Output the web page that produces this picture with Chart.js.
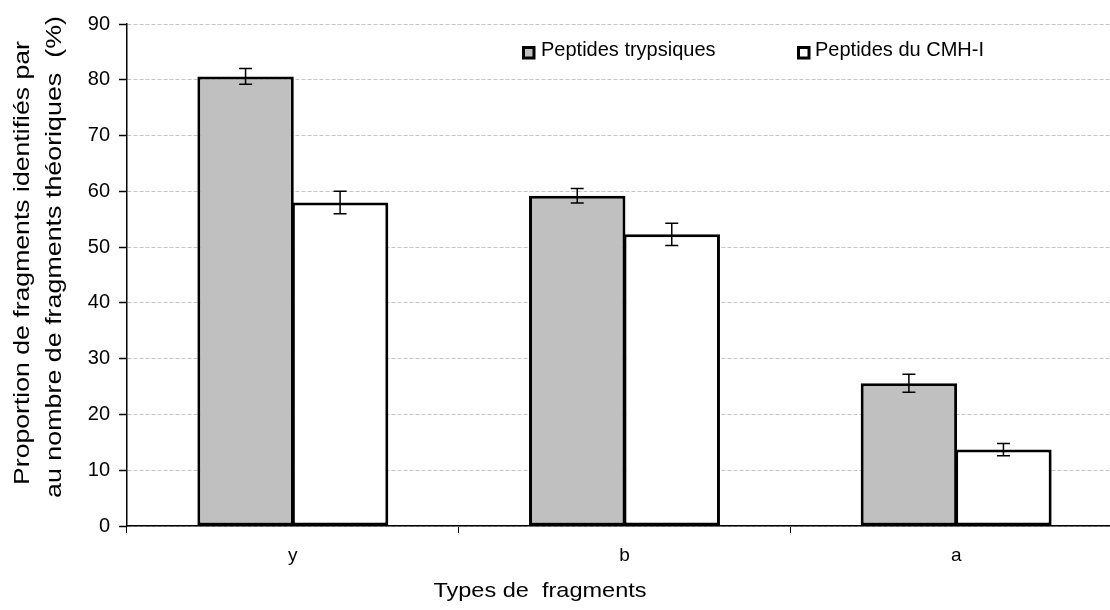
<!DOCTYPE html>
<html><head><meta charset="utf-8">
<script src="https://cdn.jsdelivr.net/npm/chart.js@4/dist/chart.umd.min.js"></script>
<style>html,body{margin:0;padding:0;overflow:hidden;background:#fff}#wrap{width:1125px;height:610px}</style>
</head><body><div id="wrap"><canvas id="c" width="1125" height="610"></canvas></div>
<script>
const categories = ['y', 'b', 'a'];
const seriesNames = ['Peptides trypsiques', 'Peptides du CMH-I'];
const trypsiques = [80.6, 59.2, 25.6];
const trypsiquesErr = [1.4, 1.3, 1.6];
const cmh = [58.0, 52.3, 13.7];
const cmhErr = [2.0, 2.0, 1.1];
const yTicks = [0, 10, 20, 30, 40, 50, 60, 70, 80, 90];
const yTitle = ['Proportion de fragments identifiés par', 'au nombre de fragments théoriques  (%)'];
const xTitle = 'Types de  fragments';

const FONT = '"Liberation Sans", Arial, sans-serif';

const errorBars = {
  id: 'errorBars',
  afterDatasetsDraw(chart) {
    const ctx = chart.ctx, ys = chart.scales.y;
    const errs = [trypsiquesErr, cmhErr];
    ctx.save();
    ctx.strokeStyle = '#000'; ctx.lineWidth = 1.5;
    chart.data.datasets.forEach((ds, di) => {
      const meta = chart.getDatasetMeta(di);
      meta.data.forEach((bar, i) => {
        const v = ds.data[i], e = errs[di][i];
        const x = bar.x, yt = ys.getPixelForValue(v + e), yb = ys.getPixelForValue(v - e);
        ctx.beginPath();
        ctx.moveTo(x, yt); ctx.lineTo(x, yb);
        ctx.moveTo(x - 6.5, yt); ctx.lineTo(x + 6.5, yt);
        ctx.moveTo(x - 6.5, yb); ctx.lineTo(x + 6.5, yb);
        ctx.stroke();
      });
    });
    ctx.restore();
  }
};

function stretchedText(ctx, text, x, y, rot, sx) {
  ctx.save();
  ctx.translate(x, y);
  ctx.rotate(rot);
  ctx.scale(sx, 1);
  ctx.fillText(text, 0, 0);
  ctx.restore();
}

const texts = {
  id: 'texts',
  afterDraw(chart) {
    const ctx = chart.ctx;
    ctx.save();
    ctx.fillStyle = '#000';
    ctx.textAlign = 'center'; ctx.textBaseline = 'middle';
    ctx.font = '22px ' + FONT;
    stretchedText(ctx, yTitle[0], 23, 263, -Math.PI / 2, 1.21);
    stretchedText(ctx, yTitle[1], 55, 257, -Math.PI / 2, 1.22);
    ctx.font = '21px ' + FONT;
    stretchedText(ctx, xTitle, 540, 591, 0, 1.12);
    // legend
    const items = [[522, '#C0C0C0', seriesNames[0], 541], [797, '#FFFFFF', seriesNames[1], 815]];
    ctx.font = '20px ' + FONT;
    ctx.textAlign = 'left'; ctx.textBaseline = 'alphabetic';
    items.forEach(([x, col, label, tx]) => {
      ctx.fillStyle = col; ctx.strokeStyle = '#000'; ctx.lineWidth = 3;
      ctx.fillRect(x + 1.5, 47.5, 10.5, 10.5); ctx.strokeRect(x + 1.5, 47.5, 10.5, 10.5);
      ctx.fillStyle = '#000';
      ctx.fillText(label, tx, 56);
    });
    ctx.restore();
  }
};

new Chart(document.getElementById('c'), {
  type: 'bar',
  data: {
    labels: categories,
    datasets: [
      { label: seriesNames[0], data: trypsiques, backgroundColor: '#C0C0C0', borderColor: '#000', borderWidth: 3, borderSkipped: false },
      { label: seriesNames[1], data: cmh, backgroundColor: '#FFFFFF', borderColor: '#000', borderWidth: 3, borderSkipped: false }
    ]
  },
  options: {
    responsive: false, animation: false,
    layout: { padding: { top: 24, right: 3, left: 0, bottom: 0 } },
    datasets: { bar: { categoryPercentage: 0.57, barPercentage: 1.02 } },
    plugins: { legend: { display: false }, tooltip: { enabled: false } },
    scales: {
      x: {
        grid: { offset: true, drawOnChartArea: false, tickLength: 7, tickColor: '#000', tickWidth: 1 },
        border: { color: '#000', width: 1.5 },
        ticks: { color: '#000', font: { family: FONT, size: 19 }, padding: 11 },
        afterFit(s) { s.height = 84; }
      },
      y: {
        min: 0, max: 90,
        afterBuildTicks(s) { s.ticks = yTicks.map(v => ({ value: v })); },
        grid: { color: '#C4C4C4', lineWidth: 1, tickBorderDash: [], tickColor: '#000', tickLength: 8, tickWidth: 1.5 },
        border: { color: '#000', width: 1.5, dash: [4, 2] },
        ticks: { color: '#000', font: { family: FONT, size: 20 }, padding: 9 },
        afterFit(s) { s.width = 127; }
      }
    }
  },
  plugins: [errorBars, texts]
});
</script></body></html>
